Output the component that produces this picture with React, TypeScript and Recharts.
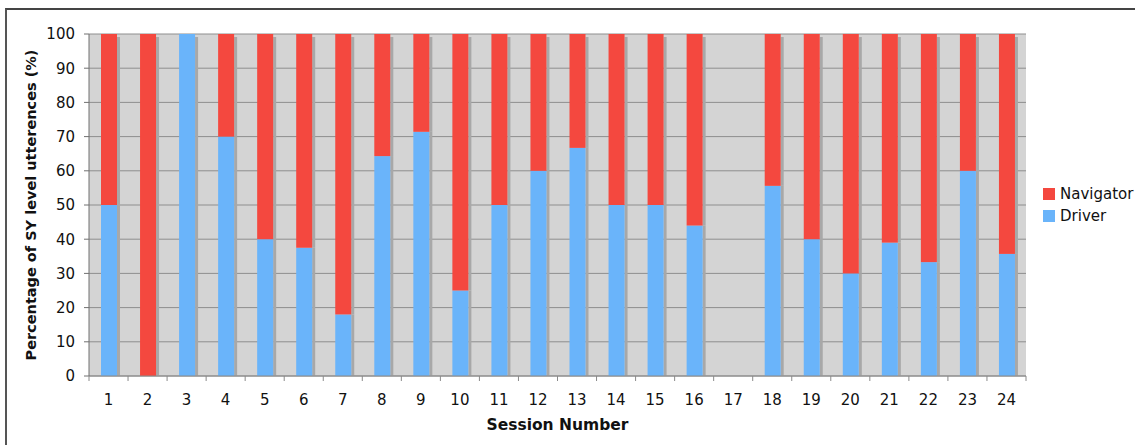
import React from "react";
import { BarChart, Bar, XAxis, YAxis, CartesianGrid, Legend } from "recharts";

const sessions = ["1","2","3","4","5","6","7","8","9","10","11","12","13","14","15","16","17","18","19","20","21","22","23","24"];
const driverValues = [50, 0, 100, 70, 40, 37.5, 18, 64.3, 71.4, 25, 50, 60, 66.7, 50, 50, 44, 0, 55.6, 40, 30, 39, 33.3, 60, 35.7];
const navigatorValues = [50, 100, 0, 30, 60, 62.5, 82, 35.7, 28.6, 75, 50, 40, 33.3, 50, 50, 56, 0, 44.4, 60, 70, 61, 66.7, 40, 64.3];
const yTicks = [0, 10, 20, 30, 40, 50, 60, 70, 80, 90, 100];

const data = sessions.map((s, i) => ({ session: s, driver: driverValues[i], navigator: navigatorValues[i] }));

const W = 1135;
const H = 445;
const PLOT_LEFT = 89;
const PLOT_RIGHT = 1026;
const PLOT_TOP = 34;
const PLOT_BOTTOM = 376;
const BAND = (PLOT_RIGHT - PLOT_LEFT) / sessions.length;

const NAV_COLOR = "#f4483f";
const DRV_COLOR = "#6ab4fa";
const FONT = "'DejaVu Sans', Verdana, sans-serif";

const ShadowBar = (props: any) => {
  const { x, y, width, height, fill, payload, dataKey } = props;
  if (!height || height <= 0) return null;
  const isTop = dataKey === "navigator" || payload.navigator === 0;
  const off = isTop ? 3 : 0;
  return (
    <g>
      <rect x={x + width} y={y + off} width={3} height={Math.max(0, height - off)} fill="#a8a8a8" />
      <rect x={x} y={y} width={width} height={height} fill={fill} />
    </g>
  );
};

const XTick = (props: any) => {
  const { x, y, payload, index } = props;
  const left = x - BAND / 2;
  const right = x + BAND / 2;
  return (
    <g>
      <line x1={left} y1={PLOT_BOTTOM} x2={left} y2={PLOT_BOTTOM + 5} stroke="#8a8a8a" />
      {index === sessions.length - 1 && (
        <line x1={right} y1={PLOT_BOTTOM} x2={right} y2={PLOT_BOTTOM + 5} stroke="#8a8a8a" />
      )}
      <text x={x} y={y} dy="0.71em" textAnchor="middle" fill="#111" fontSize={15} fontFamily={FONT}>
        {payload.value}
      </text>
    </g>
  );
};

const LegendContent = () => {
  const items = [
    { name: "Navigator", color: NAV_COLOR },
    { name: "Driver", color: DRV_COLOR },
  ];
  return (
    <div style={{ fontFamily: FONT, fontSize: 15, color: "#111", whiteSpace: "nowrap" }}>
      {items.map((it) => (
        <div key={it.name} style={{ display: "flex", alignItems: "center", height: 22 }}>
          <span style={{ display: "inline-block", width: 12, height: 12, background: it.color, marginRight: 5 }} />
          <span>{it.name}</span>
        </div>
      ))}
    </div>
  );
};

export default function App() {
  return (
    <div style={{ position: "absolute", left: 0, top: 0, width: W, height: H, overflow: "hidden", background: "#fff" }}>
      <div
        style={{
          position: "absolute",
          left: 5,
          top: 8,
          width: 1300,
          height: 600,
          borderTop: "2px solid #444",
          borderLeft: "2px solid #555",
        }}
      />
      <div style={{ position: "absolute", left: 0, top: 0 }}>
        <BarChart
          width={W}
          height={H}
          data={data}
          margin={{ top: PLOT_TOP, right: W - PLOT_RIGHT, bottom: 39, left: 29 }}
          barSize={16}
        >
          <CartesianGrid vertical={false} fill="#d4d4d4" stroke="#8e8e8e" />
          <XAxis
            dataKey="session"
            height={30}
            axisLine={{ stroke: "#8a8a8a" }}
            tickLine={false}
            tickSize={5}
            tickMargin={13}
            interval={0}
            tick={<XTick />}
            label={{
              content: () => (
                <text
                  x={(PLOT_LEFT + PLOT_RIGHT) / 2}
                  y={430}
                  textAnchor="middle"
                  fontSize={15.5}
                  fontWeight="bold"
                  fontFamily={FONT}
                  fill="#111"
                >
                  Session Number
                </text>
              ),
            }}
          />
          <YAxis
            width={60}
            domain={[0, 100]}
            ticks={yTicks}
            interval={0}
            axisLine={{ stroke: "#707070" }}
            tickLine={{ stroke: "#707070" }}
            tickSize={5}
            tickMargin={9}
            tick={{ fontSize: 15, fontFamily: FONT, fill: "#111" }}
            label={{
              content: () => (
                <text
                  x={36}
                  y={(PLOT_TOP + PLOT_BOTTOM) / 2}
                  transform={`rotate(-90, 36, ${(PLOT_TOP + PLOT_BOTTOM) / 2})`}
                  textAnchor="middle"
                  fontSize={14.5}
                  fontWeight="bold"
                  fontFamily={FONT}
                  fill="#111"
                >
                  Percentage of SY level utterences (%)
                </text>
              ),
            }}
          />
          <YAxis
            yAxisId="r"
            orientation="right"
            width={0}
            domain={[0, 100]}
            tick={false}
            tickLine={false}
            axisLine={{ stroke: "#ababab" }}
          />
          <Legend
            layout="horizontal"
            align="center"
            verticalAlign="middle"
            content={<LegendContent />}
            wrapperStyle={{ position: "absolute", left: 1043, top: 183, width: 92 }}
          />
          <Bar dataKey="driver" name="Driver" stackId="a" fill={DRV_COLOR} shape={<ShadowBar />} isAnimationActive={false} />
          <Bar dataKey="navigator" name="Navigator" stackId="a" fill={NAV_COLOR} shape={<ShadowBar />} isAnimationActive={false} />
        </BarChart>
      </div>
    </div>
  );
}
